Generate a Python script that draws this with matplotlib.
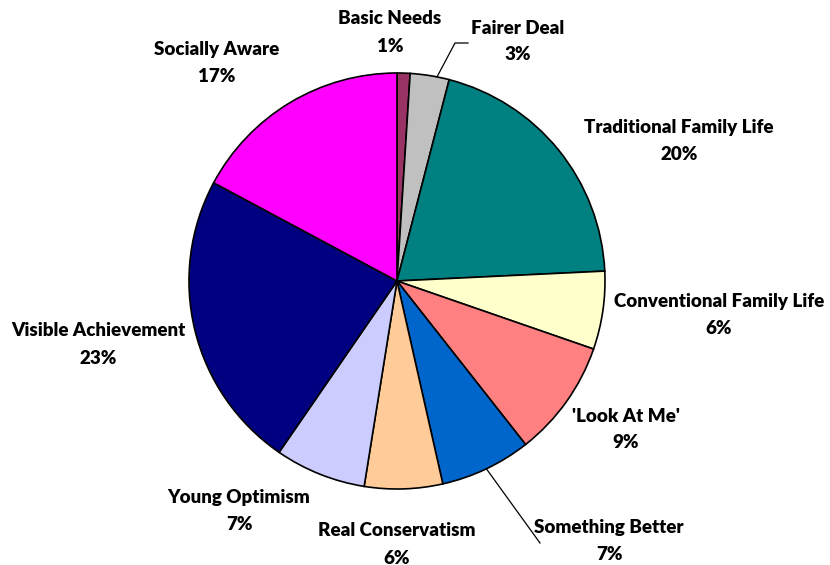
import matplotlib.pyplot as plt
import numpy as np

plt.rcParams['font.family'] = ['Lato', 'DejaVu Sans']

segments = ['Basic Needs', 'Fairer Deal', 'Traditional Family Life',
            'Conventional Family Life', "'Look At Me'", 'Something Better',
            'Real Conservatism', 'Young Optimism', 'Visible Achievement',
            'Socially Aware']
shares = [1, 3, 20, 6, 9, 7, 6, 7, 23, 17]
colors = ['#993366', '#C0C0C0', '#008080', '#FFFFCC', '#FF8080',
          '#0066CC', '#FFCC99', '#CCCCFF', '#000080', '#FF00FF']

# label centres in pixel space (x from left, y from top)
label_pos = [(390, 19), (518, 28), (679, 128), (719, 301), (626, 416),
             (609, 527), (397, 531), (239, 498), (98, 331), (217, 50)]

W, H = 830, 565
cx, cy, r = 397, H - 281, 208

fig = plt.figure(figsize=(W / 100, H / 100), dpi=100)
ax = fig.add_axes([0, 0, 1, 1])
wedges, _ = ax.pie(shares, colors=colors, startangle=90, counterclock=False,
                   center=(cx, cy), radius=r,
                   wedgeprops=dict(edgecolor='black', linewidth=1.2))
ax.set_xlim(0, W)
ax.set_ylim(0, H)
ax.set_aspect('equal')
ax.axis('off')

for name, pct, (lx, ly) in zip(segments, shares, label_pos):
    ax.text(lx, H - ly, name, ha='center', va='center',
            fontsize=13.5, fontweight='heavy')
    ax.text(lx, H - ly - 27, f'{pct}%', ha='center', va='center',
            fontsize=13.5, fontweight='heavy')


def edge_point(w, shift=0):
    mid = np.deg2rad((w.theta1 + w.theta2) / 2 + shift)
    return cx + r * np.cos(mid), cy + r * np.sin(mid)


# leader lines for the two slices whose labels sit away from them
x0, y0 = edge_point(wedges[1], -2)
ax.plot([x0, 455, 468], [y0, H - 43, H - 43], color='black', lw=0.9)
x0, y0 = edge_point(wedges[5])
ax.plot([x0, 540], [y0, H - 543], color='black', lw=0.9)

plt.savefig('out.png', dpi=100)
